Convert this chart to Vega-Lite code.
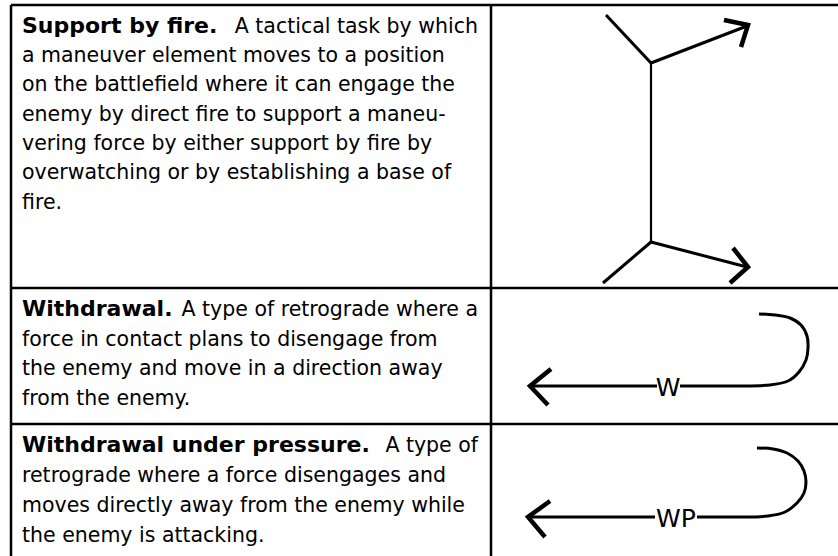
{
  "$schema": "https://vega.github.io/schema/vega-lite/v6.json",
  "width": 838,
  "height": 556,
  "padding": 0,
  "autosize": {"type": "none"},
  "background": "white",
  "config": {"view": {"stroke": null}},
  "datasets": {
    "grid": [
      {"x": 11, "y": 5, "x2": 838, "y2": 5},
      {"x": 11, "y": 288, "x2": 838, "y2": 288},
      {"x": 11, "y": 424, "x2": 838, "y2": 424},
      {"x": 11, "y": 5, "x2": 11, "y2": 556},
      {"x": 491, "y": 5, "x2": 491, "y2": 556}
    ],
    "text": [
      {"part": "term", "y": 32.5, "text": "Support by fire."},
      {"part": "lead", "y": 32.5, "text": "A tactical task by which"},
      {"part": "body", "y": 62, "text": "a maneuver element moves to a position"},
      {"part": "body", "y": 91, "text": "on the battlefield where it can engage the"},
      {"part": "body", "y": 120.5, "text": "enemy by direct fire to support a maneu-"},
      {"part": "body", "y": 150, "text": "vering force by either support by fire by"},
      {"part": "body", "y": 179, "text": "overwatching or by establishing a base of"},
      {"part": "body", "y": 208.5, "text": "fire."},
      {"part": "term", "y": 316, "text": "Withdrawal."},
      {"part": "lead", "y": 316, "text": "A type of retrograde where a"},
      {"part": "body", "y": 346, "text": "force in contact plans to disengage from"},
      {"part": "body", "y": 375, "text": "the enemy and move in a direction away"},
      {"part": "body", "y": 404.5, "text": "from the enemy."},
      {"part": "term", "y": 452, "text": "Withdrawal under pressure."},
      {"part": "lead", "y": 452, "text": "A type of"},
      {"part": "body", "y": 482, "text": "retrograde where a force disengages and"},
      {"part": "body", "y": 512, "text": "moves directly away from the enemy while"},
      {"part": "body", "y": 542, "text": "the enemy is attacking."}
    ],
    "strokes": [
      {"path": "sbf-ul", "part": "shaft", "i": 0, "x": 606, "y": 15},
      {"path": "sbf-ul", "part": "shaft", "i": 1, "x": 651, "y": 63},
      {"path": "sbf-stem", "part": "stem", "i": 0, "x": 651, "y": 63},
      {"path": "sbf-stem", "part": "stem", "i": 1, "x": 651, "y": 242},
      {"path": "sbf-ua", "part": "shaft", "i": 0, "x": 651, "y": 63},
      {"path": "sbf-ua", "part": "shaft", "i": 1, "x": 747, "y": 26},
      {"path": "sbf-uh", "part": "head", "i": 0, "x": 724, "y": 20},
      {"path": "sbf-uh", "part": "head", "i": 1, "x": 748, "y": 25},
      {"path": "sbf-uh", "part": "head", "i": 2, "x": 741, "y": 47},
      {"path": "sbf-ll", "part": "shaft", "i": 0, "x": 651, "y": 242},
      {"path": "sbf-ll", "part": "shaft", "i": 1, "x": 603, "y": 283},
      {"path": "sbf-la", "part": "shaft", "i": 0, "x": 651, "y": 242},
      {"path": "sbf-la", "part": "shaft", "i": 1, "x": 747, "y": 267},
      {"path": "sbf-lh", "part": "head", "i": 0, "x": 733, "y": 248},
      {"path": "sbf-lh", "part": "head", "i": 1, "x": 748, "y": 267},
      {"path": "sbf-lh", "part": "head", "i": 2, "x": 730, "y": 283},
      {"path": "w-head", "part": "head", "i": 0, "x": 551, "y": 369},
      {"path": "w-head", "part": "head", "i": 1, "x": 530, "y": 386},
      {"path": "w-head", "part": "head", "i": 2, "x": 548, "y": 405},
      {"path": "w-l", "part": "shaft", "i": 0, "x": 530, "y": 386},
      {"path": "w-l", "part": "shaft", "i": 1, "x": 657, "y": 386},
      {"path": "w-r", "part": "shaft", "i": 0, "x": 680, "y": 386},
      {"path": "w-r", "part": "shaft", "i": 1, "x": 745, "y": 386},
      {"path": "w-c", "part": "curve", "i": 0, "x": 745, "y": 386},
      {"path": "w-c", "part": "curve", "i": 1, "x": 770, "y": 385},
      {"path": "w-c", "part": "curve", "i": 2, "x": 788, "y": 381},
      {"path": "w-c", "part": "curve", "i": 3, "x": 799, "y": 372},
      {"path": "w-c", "part": "curve", "i": 4, "x": 806, "y": 360},
      {"path": "w-c", "part": "curve", "i": 5, "x": 808, "y": 348},
      {"path": "w-c", "part": "curve", "i": 6, "x": 807, "y": 336},
      {"path": "w-c", "part": "curve", "i": 7, "x": 801, "y": 325},
      {"path": "w-c", "part": "curve", "i": 8, "x": 790, "y": 318},
      {"path": "w-c", "part": "curve", "i": 9, "x": 775, "y": 315},
      {"path": "w-c", "part": "curve", "i": 10, "x": 759, "y": 314},
      {"path": "wp-head", "part": "head", "i": 0, "x": 550, "y": 501},
      {"path": "wp-head", "part": "head", "i": 1, "x": 528, "y": 517},
      {"path": "wp-head", "part": "head", "i": 2, "x": 545, "y": 537},
      {"path": "wp-l", "part": "shaft", "i": 0, "x": 528, "y": 517},
      {"path": "wp-l", "part": "shaft", "i": 1, "x": 655, "y": 517},
      {"path": "wp-r", "part": "shaft", "i": 0, "x": 697, "y": 517},
      {"path": "wp-r", "part": "shaft", "i": 1, "x": 745, "y": 517},
      {"path": "wp-c", "part": "curve", "i": 0, "x": 745, "y": 517},
      {"path": "wp-c", "part": "curve", "i": 1, "x": 768, "y": 516},
      {"path": "wp-c", "part": "curve", "i": 2, "x": 785, "y": 512},
      {"path": "wp-c", "part": "curve", "i": 3, "x": 797, "y": 503},
      {"path": "wp-c", "part": "curve", "i": 4, "x": 804, "y": 493},
      {"path": "wp-c", "part": "curve", "i": 5, "x": 806, "y": 482},
      {"path": "wp-c", "part": "curve", "i": 6, "x": 804, "y": 471},
      {"path": "wp-c", "part": "curve", "i": 7, "x": 798, "y": 461},
      {"path": "wp-c", "part": "curve", "i": 8, "x": 787, "y": 453},
      {"path": "wp-c", "part": "curve", "i": 9, "x": 773, "y": 449},
      {"path": "wp-c", "part": "curve", "i": 10, "x": 757, "y": 448}
    ],
    "labels": [
      {"x": 668, "y": 386, "text": "W"},
      {"x": 676, "y": 517, "text": "WP"}
    ]
  },
  "layer": [
    {
      "data": {"name": "grid"},
      "mark": {"type": "rule", "color": "black", "strokeWidth": 2.5},
      "encoding": {
        "x": {"field": "x", "type": "quantitative", "scale": {"domain": [0, 838], "nice": false, "zero": false}, "axis": null},
        "y": {"field": "y", "type": "quantitative", "scale": {"domain": [0, 556], "reverse": true, "nice": false, "zero": false}, "axis": null},
        "x2": {"field": "x2"},
        "y2": {"field": "y2"}
      }
    },
    {
      "data": {"name": "text"},
      "transform": [{"filter": "datum.part === 'term'"}],
      "mark": {"type": "text", "align": "left", "baseline": "alphabetic", "font": "DejaVu Sans", "fontSize": 22, "fontWeight": "bold", "color": "black"},
      "encoding": {
        "x": {"datum": 22, "type": "quantitative", "scale": {"domain": [0, 838], "nice": false, "zero": false}, "axis": null},
        "y": {"field": "y", "type": "quantitative", "scale": {"domain": [0, 556], "reverse": true, "nice": false, "zero": false}, "axis": null},
        "text": {"field": "text"}
      }
    },
    {
      "data": {"name": "text"},
      "transform": [{"filter": "datum.part === 'lead'"}],
      "mark": {"type": "text", "align": "right", "baseline": "alphabetic", "font": "DejaVu Sans", "fontSize": 20.5, "color": "black"},
      "encoding": {
        "x": {"datum": 478, "type": "quantitative", "scale": {"domain": [0, 838], "nice": false, "zero": false}, "axis": null},
        "y": {"field": "y", "type": "quantitative", "scale": {"domain": [0, 556], "reverse": true, "nice": false, "zero": false}, "axis": null},
        "text": {"field": "text"}
      }
    },
    {
      "data": {"name": "text"},
      "transform": [{"filter": "datum.part === 'body'"}],
      "mark": {"type": "text", "align": "left", "baseline": "alphabetic", "font": "DejaVu Sans", "fontSize": 20.5, "color": "black"},
      "encoding": {
        "x": {"datum": 22, "type": "quantitative", "scale": {"domain": [0, 838], "nice": false, "zero": false}, "axis": null},
        "y": {"field": "y", "type": "quantitative", "scale": {"domain": [0, 556], "reverse": true, "nice": false, "zero": false}, "axis": null},
        "text": {"field": "text"}
      }
    },
    {
      "data": {"name": "strokes"},
      "transform": [{"filter": "datum.part === 'stem'"}],
      "mark": {"type": "line", "color": "black", "strokeWidth": 2.2, "interpolate": "linear"},
      "encoding": {
        "x": {"field": "x", "type": "quantitative", "scale": {"domain": [0, 838], "nice": false, "zero": false}, "axis": null},
        "y": {"field": "y", "type": "quantitative", "scale": {"domain": [0, 556], "reverse": true, "nice": false, "zero": false}, "axis": null},
        "detail": {"field": "path"},
        "order": {"field": "i", "type": "quantitative"}
      }
    },
    {
      "data": {"name": "strokes"},
      "transform": [{"filter": "datum.part === 'shaft'"}],
      "mark": {"type": "line", "color": "black", "strokeWidth": 3, "interpolate": "linear"},
      "encoding": {
        "x": {"field": "x", "type": "quantitative", "scale": {"domain": [0, 838], "nice": false, "zero": false}, "axis": null},
        "y": {"field": "y", "type": "quantitative", "scale": {"domain": [0, 556], "reverse": true, "nice": false, "zero": false}, "axis": null},
        "detail": {"field": "path"},
        "order": {"field": "i", "type": "quantitative"}
      }
    },
    {
      "data": {"name": "strokes"},
      "transform": [{"filter": "datum.part === 'head'"}],
      "mark": {"type": "line", "color": "black", "strokeWidth": 4.5, "interpolate": "linear", "strokeJoin": "miter", "strokeCap": "butt"},
      "encoding": {
        "x": {"field": "x", "type": "quantitative", "scale": {"domain": [0, 838], "nice": false, "zero": false}, "axis": null},
        "y": {"field": "y", "type": "quantitative", "scale": {"domain": [0, 556], "reverse": true, "nice": false, "zero": false}, "axis": null},
        "detail": {"field": "path"},
        "order": {"field": "i", "type": "quantitative"}
      }
    },
    {
      "data": {"name": "strokes"},
      "transform": [{"filter": "datum.part === 'curve'"}],
      "mark": {"type": "line", "color": "black", "strokeWidth": 3, "interpolate": "cardinal"},
      "encoding": {
        "x": {"field": "x", "type": "quantitative", "scale": {"domain": [0, 838], "nice": false, "zero": false}, "axis": null},
        "y": {"field": "y", "type": "quantitative", "scale": {"domain": [0, 556], "reverse": true, "nice": false, "zero": false}, "axis": null},
        "detail": {"field": "path"},
        "order": {"field": "i", "type": "quantitative"}
      }
    },
    {
      "data": {"name": "labels"},
      "mark": {"type": "text", "align": "center", "baseline": "alphabetic", "dy": 9.5, "font": "DejaVu Sans", "fontSize": 25, "color": "black"},
      "encoding": {
        "x": {"field": "x", "type": "quantitative", "scale": {"domain": [0, 838], "nice": false, "zero": false}, "axis": null},
        "y": {"field": "y", "type": "quantitative", "scale": {"domain": [0, 556], "reverse": true, "nice": false, "zero": false}, "axis": null},
        "text": {"field": "text"}
      }
    }
  ]
}
